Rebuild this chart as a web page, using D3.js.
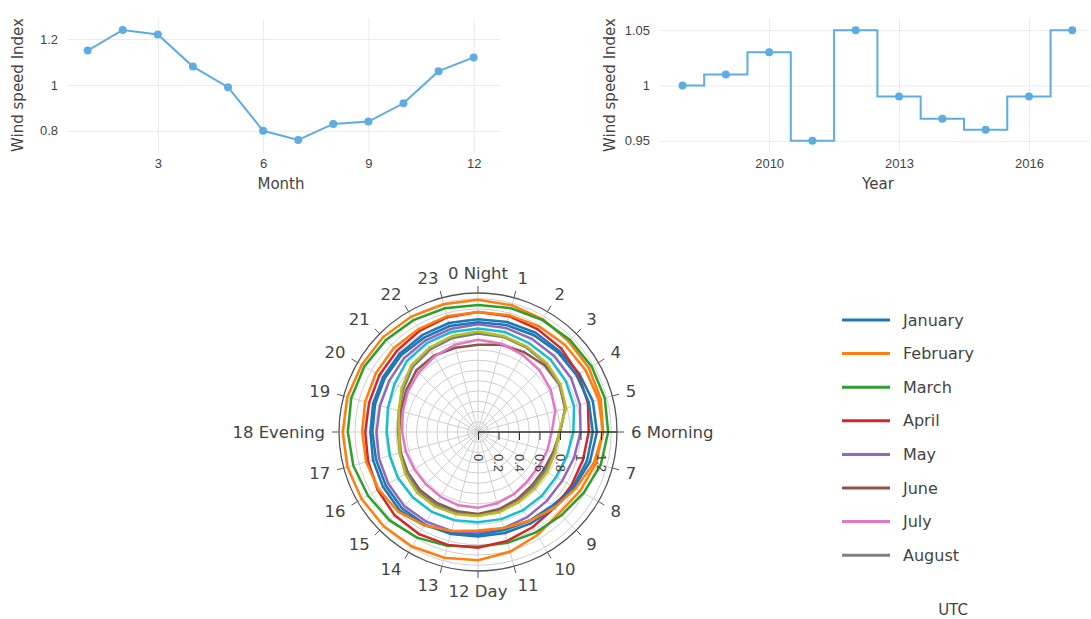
<!DOCTYPE html>
<html>
<head>
<meta charset="utf-8">
<script src="https://cdn.jsdelivr.net/npm/d3@7"></script>
<style>
  body { margin: 0; background: #fff; }
  svg { font-family: "DejaVu Sans", Verdana, sans-serif; }
</style>
</head>
<body>
<div id="chart"></div>
<script>
const monthNums = [1, 2, 3, 4, 5, 6, 7, 8, 9, 10, 11, 12]
const monthIndex = [1.15, 1.24, 1.22, 1.08, 0.99, 0.80, 0.76, 0.83, 0.84, 0.92, 1.06, 1.12]
const years = [2008, 2009, 2010, 2011, 2012, 2013, 2014, 2015, 2016, 2017]
const yearIndex = [1.00, 1.01, 1.03, 0.95, 1.05, 0.99, 0.97, 0.96, 0.99, 1.05]

const monthNames = ['January', 'February', 'March', 'April', 'May', 'June',
  'July', 'August', 'September', 'October', 'November', 'December']
const hours = [0, 1, 2, 3, 4, 5, 6, 7, 8, 9, 10, 11, 12, 13, 14, 15, 16, 17, 18, 19, 20, 21, 22, 23]
const hourLabels = ['0 Night', '1', '2', '3', '4', '5', '6 Morning', '7', '8', '9', '10', '11',
  '12 Day', '13', '14', '15', '16', '17', '18 Evening', '19', '20', '21', '22', '23']
const radialTicks = [0, 0.2, 0.4, 0.6, 0.8, 1, 1.2]

// hourly wind speed index per month (UTC)
const jan = [1.10, 1.11, 1.12, 1.12, 1.14, 1.16, 1.16, 1.13, 1.08, 1.02, 1.00, 0.99, 1.00, 1.02, 1.05, 1.08, 1.07, 1.06, 1.05, 1.06, 1.07, 1.08, 1.09, 1.10]
const feb = [1.29, 1.28, 1.27, 1.25, 1.25, 1.24, 1.22, 1.19, 1.15, 1.12, 1.16, 1.21, 1.25, 1.27, 1.29, 1.30, 1.31, 1.32, 1.32, 1.32, 1.31, 1.31, 1.30, 1.29]
const mar = [1.24, 1.25, 1.26, 1.27, 1.28, 1.28, 1.27, 1.24, 1.19, 1.15, 1.13, 1.12, 1.12, 1.15, 1.19, 1.22, 1.24, 1.26, 1.27, 1.28, 1.28, 1.27, 1.26, 1.25]
const apr = [1.17, 1.17, 1.16, 1.15, 1.13, 1.11, 1.08, 1.06, 1.05, 1.05, 1.07, 1.10, 1.13, 1.14, 1.15, 1.15, 1.13, 1.11, 1.10, 1.10, 1.11, 1.12, 1.14, 1.16]
const may = [1.05, 1.05, 1.05, 1.05, 1.05, 1.03, 1.00, 0.97, 0.95, 0.95, 0.96, 0.97, 0.98, 1.00, 1.01, 1.02, 1.01, 1.00, 0.99, 0.99, 1.00, 1.02, 1.03, 1.04]
const jun = [0.85, 0.88, 0.90, 0.92, 0.92, 0.88, 0.80, 0.76, 0.74, 0.74, 0.76, 0.78, 0.80, 0.80, 0.80, 0.80, 0.79, 0.78, 0.77, 0.78, 0.81, 0.85, 0.86, 0.85]
const jul = [0.90, 0.89, 0.87, 0.85, 0.82, 0.78, 0.72, 0.70, 0.68, 0.68, 0.70, 0.72, 0.74, 0.74, 0.73, 0.72, 0.72, 0.73, 0.74, 0.76, 0.79, 0.82, 0.85, 0.88]
const aug = [0.96, 0.96, 0.95, 0.94, 0.92, 0.88, 0.80, 0.77, 0.76, 0.76, 0.78, 0.80, 0.82, 0.82, 0.82, 0.82, 0.80, 0.79, 0.78, 0.80, 0.84, 0.90, 0.93, 0.95]
const sep = [0.98, 0.97, 0.96, 0.95, 0.93, 0.89, 0.79, 0.78, 0.78, 0.78, 0.79, 0.81, 0.82, 0.83, 0.84, 0.84, 0.82, 0.79, 0.77, 0.80, 0.86, 0.92, 0.95, 0.97]
const oct = [1.01, 1.01, 1.00, 1.00, 0.99, 0.97, 0.93, 0.90, 0.88, 0.88, 0.88, 0.88, 0.88, 0.89, 0.90, 0.90, 0.90, 0.89, 0.89, 0.91, 0.94, 0.98, 1.00, 1.01]
const nov = [1.07, 1.08, 1.09, 1.10, 1.11, 1.12, 1.12, 1.10, 1.07, 1.05, 1.03, 1.02, 1.02, 1.03, 1.04, 1.05, 1.04, 1.03, 1.03, 1.04, 1.05, 1.06, 1.06, 1.07]
const dec = [1.17, 1.18, 1.19, 1.20, 1.21, 1.22, 1.22, 1.17, 1.10, 1.05, 1.00, 0.97, 0.96, 1.00, 1.05, 1.10, 1.12, 1.13, 1.13, 1.14, 1.15, 1.16, 1.16, 1.17]
const hourly = [jan, feb, mar, apr, may, jun, jul, aug, sep, oct, nov, dec]
const legendCount = 8

const colors = ['#1f77b4', '#ff7f0e', '#2ca02c', '#d62728', '#9467bd', '#8c564b',
  '#e377c2', '#7f7f7f', '#bcbd22', '#17becf', '#1f77b4', '#ff7f0e']
const lineColor = '#5dade2'
const textColor = '#444'

const svg = d3.select('#chart').append('svg')
  .attr('width', 1091)
  .attr('height', 619)

function styleAxis (g) {
  g.select('.domain').remove()
  g.selectAll('line').attr('stroke', '#ebebeb')
  g.selectAll('text').attr('fill', textColor).style('font-size', '13px')
}

function lineChart (conf) {
  const { xs, ys, xDomain, yDomain, left, right, xTicks, yTicks, yFormat, xTitle, titleX, curve } = conf
  const top = 18, bottom = 153
  const x = d3.scaleLinear().domain(xDomain).range([left, right])
  const y = d3.scaleLinear().domain(yDomain).range([bottom, top])
  const g = svg.append('g')

  g.append('g')
    .attr('transform', `translate(0, ${bottom})`)
    .call(d3.axisBottom(x).tickValues(xTicks).tickSize(-(bottom - top)).tickPadding(6).tickFormat(d3.format('d')))
    .call(styleAxis)
  g.append('g')
    .attr('transform', `translate(${left}, 0)`)
    .call(d3.axisLeft(y).tickValues(yTicks).tickSize(-(right - left)).tickPadding(10).tickFormat(yFormat))
    .call(styleAxis)

  const pts = xs.map((d, i) => [d, ys[i]])
  g.append('path')
    .attr('d', d3.line().curve(curve).x(d => x(d[0])).y(d => y(d[1]))(pts))
    .attr('fill', 'none')
    .attr('stroke', lineColor)
    .attr('stroke-width', 2)
  g.selectAll('circle').data(pts).enter().append('circle')
    .attr('cx', d => x(d[0]))
    .attr('cy', d => y(d[1]))
    .attr('r', 4)
    .attr('fill', lineColor)

  g.append('text')
    .attr('x', titleX).attr('y', 189)
    .attr('text-anchor', 'middle')
    .attr('fill', textColor)
    .style('font-size', '15px')
    .text(xTitle)
  g.append('text')
    .attr('transform', `translate(${left - 45}, 85) rotate(-90)`)
    .attr('text-anchor', 'middle')
    .attr('fill', textColor)
    .style('font-size', '15px')
    .text('Wind speed Index')
}

lineChart({
  xs: monthNums, ys: monthIndex,
  xDomain: [0.44, 12.75], yDomain: [0.703, 1.292],
  left: 68, right: 500,
  xTicks: [3, 6, 9, 12], yTicks: [0.8, 1, 1.2],
  yFormat: d3.format('~g'),
  xTitle: 'Month', titleX: 281,
  curve: d3.curveLinear
})

lineChart({
  xs: years, ys: yearIndex,
  xDomain: [2007.48, 2017.41], yDomain: [0.939, 1.061],
  left: 660, right: 1090,
  xTicks: [2010, 2013, 2016], yTicks: [0.95, 1, 1.05],
  yFormat: d3.format('~g'),
  xTitle: 'Year', titleX: 878,
  curve: d3.curveStep
})

// polar chart
const cx = 478, cy = 432, R = 139
const r = d3.scaleLinear().domain([0, 1.356]).range([0, R])
const angle = h => h / 24 * 2 * Math.PI
const polar = svg.append('g').attr('transform', `translate(${cx}, ${cy})`)

polar.selectAll('.ring').data(d3.range(0.1, 1.35, 0.1)).enter().append('circle')
  .attr('r', d => r(d))
  .attr('fill', 'none')
  .attr('stroke', '#cfcfcf')
polar.selectAll('.spoke').data(hours).enter().append('line')
  .attr('x2', d => R * Math.sin(angle(d)))
  .attr('y2', d => -R * Math.cos(angle(d)))
  .attr('stroke', '#cfcfcf')

polar.selectAll('.curve').data(hourly).enter().append('path')
  .attr('d', vals => d3.lineRadial()
    .curve(d3.curveLinearClosed)
    .angle((d, i) => angle(hours[i]))
    .radius(d => r(d))(vals))
  .attr('fill', 'none')
  .attr('stroke', (d, i) => colors[i])
  .attr('stroke-width', 2.5)

polar.append('circle')
  .attr('r', R)
  .attr('fill', 'none')
  .attr('stroke', '#555')
  .attr('stroke-width', 1.3)
polar.selectAll('.atick').data(hours).enter().append('line')
  .attr('x1', d => R * Math.sin(angle(d)))
  .attr('y1', d => -R * Math.cos(angle(d)))
  .attr('x2', d => (R + 7) * Math.sin(angle(d)))
  .attr('y2', d => -(R + 7) * Math.cos(angle(d)))
  .attr('stroke', '#555')
polar.selectAll('.alabel').data(hours).enter().append('text')
  .attr('x', d => 153 * Math.sin(angle(d)))
  .attr('y', d => -153 * Math.cos(angle(d)) - 6 * Math.cos(angle(d)))
  .attr('dy', '0.35em')
  .attr('text-anchor', d => {
    const s = Math.sin(angle(d))
    return s > 0.1 ? 'start' : s < -0.1 ? 'end' : 'middle'
  })
  .attr('fill', textColor)
  .style('font-size', '16.5px')
  .text((d, i) => hourLabels[i])

const rAxis = polar.append('g')
  .call(d3.axisBottom(r).tickValues(radialTicks).tickSize(8).tickSizeOuter(0).tickFormat(d3.format('~g')))
rAxis.select('.domain').attr('stroke', '#333').attr('stroke-width', 1.5).attr('d', `M0,0H${R}`)
rAxis.selectAll('line').attr('stroke', '#333')
rAxis.selectAll('text')
  .attr('transform', 'rotate(90)')
  .attr('x', 22).attr('y', 0).attr('dy', '0.35em')
  .style('text-anchor', 'start')
  .style('font-size', '13px')
  .attr('fill', textColor)

// legend
const legend = svg.append('g').attr('transform', 'translate(842, 320)')
const items = legend.selectAll('g').data(monthNames.slice(0, legendCount)).enter().append('g')
  .attr('transform', (d, i) => `translate(0, ${i * 33.6})`)
items.append('line')
  .attr('x2', 48)
  .attr('stroke', (d, i) => colors[i])
  .attr('stroke-width', 3)
items.append('text')
  .attr('x', 61).attr('dy', '0.35em')
  .attr('fill', textColor)
  .style('font-size', '16px')
  .text(d => d)

svg.append('text')
  .attr('x', 953).attr('y', 615)
  .attr('text-anchor', 'middle')
  .attr('fill', textColor)
  .style('font-size', '15px')
  .text('UTC')
</script>
</body>
</html>
